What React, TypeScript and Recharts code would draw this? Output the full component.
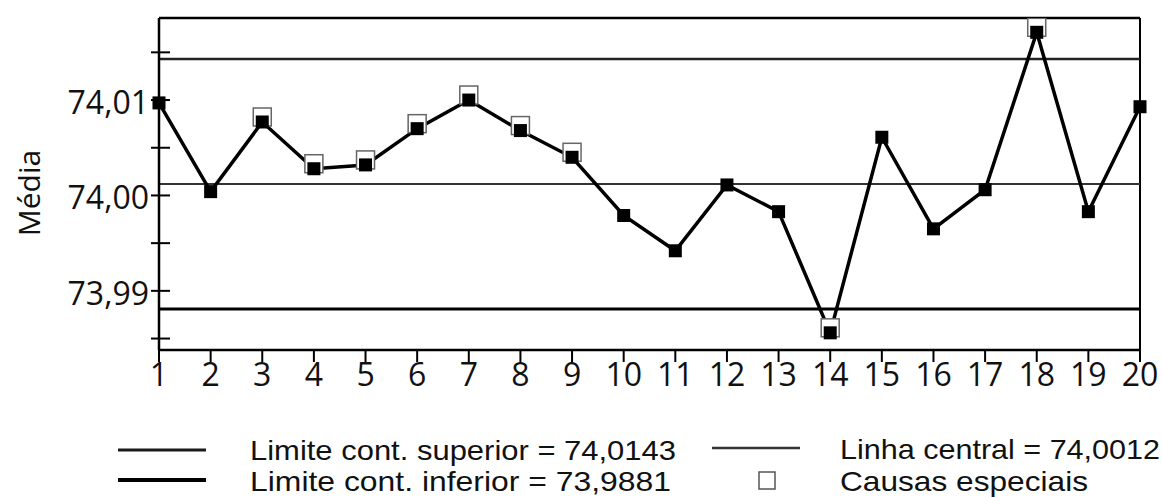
import React from "react";
import { ComposedChart, Line, XAxis, YAxis, ReferenceLine } from "recharts";

// Amostras e médias
const samples = [1, 2, 3, 4, 5, 6, 7, 8, 9, 10, 11, 12, 13, 14, 15, 16, 17, 18, 19, 20];
const means = [
  74.0097, 74.0004, 74.0077, 74.0028, 74.0032, 74.007, 74.01, 74.0068, 74.004, 73.9979,
  73.9942, 74.0011, 73.9983, 73.9856, 74.0061, 73.9965, 74.0006, 74.0171, 73.9983, 74.0093,
];
// Amostras marcadas como causas especiais
const specialSamples = [3, 4, 5, 6, 7, 8, 9, 14, 18];

const UCL = 74.0143;
const CL = 74.0012;
const LCL = 73.9881;

const yTicks = [73.985, 73.99, 73.995, 74.0, 74.005, 74.01, 74.015];
const yLabelled = [73.99, 74.0, 74.01];
const yDomain = [73.9838, 74.0186];

const data = samples.map((s, i) => ({
  sample: s,
  mean: means[i],
  special: specialSamples.includes(s) ? means[i] : null,
}));

const FONT = "'Open Sans', 'DejaVu Sans', sans-serif";
const LEGEND_FONT = "'Liberation Sans', Arial, sans-serif";
const INK = "#111";

function FilledSquare(props: any) {
  const { cx, cy } = props;
  if (cx == null || cy == null) return <g />;
  return <rect x={cx - 6.5} y={cy - 6.5} width={13} height={13} fill="#000" />;
}

function OpenSquare(props: any) {
  const { cx, cy, value } = props;
  if (cx == null || cy == null || value == null) return <g />;
  return (
    <rect x={cx - 9} y={cy - 14} width={18} height={18} fill="#fff" stroke="#666" strokeWidth={1.5} />
  );
}

function YTick(props: any) {
  const { x, y, payload } = props;
  const v = payload.value;
  const labelled = yLabelled.some((t) => Math.abs(t - v) < 1e-6);
  return (
    <g>
      <line x1={x - 8} x2={x + 11} y1={y} y2={y} stroke="#000" strokeWidth={2} />
      {labelled && (
        <text x={x - 10} y={y + 14} textAnchor="end" fontSize={32} fontFamily={FONT} fill={INK}>
          {v.toFixed(2).replace(".", ",")}
        </text>
      )}
    </g>
  );
}

function YLabel(props: any) {
  const { viewBox } = props;
  const cx = viewBox.x + 28;
  const cy = viewBox.y + viewBox.height / 2 + 9;
  return (
    <text
      x={cx}
      y={cy}
      transform={`rotate(-90 ${cx} ${cy})`}
      textAnchor="middle"
      dominantBaseline="central"
      fontSize={30}
      fontFamily={FONT}
      fill={INK}
    >
      Média
    </text>
  );
}

function ChartLegend() {
  const t = { fontSize: 28, fontFamily: LEGEND_FONT, fill: INK, lengthAdjust: "spacingAndGlyphs" } as const;
  return (
    <svg width={1162} height={67} style={{ position: "absolute", left: 0, top: 430 }}>
      <line x1={118} x2={206} y1={20} y2={20} stroke="#1a1a1a" strokeWidth={3} />
      <text x={250} y={30} textLength={426} {...t}>Limite cont. superior = 74,0143</text>
      <line x1={712} x2={800} y1={18} y2={18} stroke="#333" strokeWidth={2.5} />
      <text x={840} y={29} textLength={320} {...t}>Linha central = 74,0012</text>
      <line x1={118} x2={206} y1={50} y2={50} stroke="#000" strokeWidth={4} />
      <text x={250} y={61} textLength={421} {...t}>Limite cont. inferior = 73,9881</text>
      <rect x={759} y={42} width={16} height={17} fill="#fff" stroke="#555" strokeWidth={1.5} />
      <text x={840} y={61} textLength={248} {...t}>Causas especiais</text>
    </svg>
  );
}

export default function App() {
  return (
    <div style={{ position: "absolute", left: 0, top: 0, width: 1162, height: 497, background: "#fff" }}>
      <ComposedChart
        width={1162}
        height={497}
        data={data}
        margin={{ top: 18, right: 22, left: 0, bottom: 97 }}
      >
        <XAxis
          dataKey="sample"
          type="number"
          domain={[1, 20]}
          ticks={samples}
          interval={0}
          height={50}
          tickSize={12}
          tickMargin={1}
          axisLine={{ stroke: "#000", strokeWidth: 2.5 }}
          tickLine={{ stroke: "#000", strokeWidth: 2 }}
          tick={{ fontSize: 32, fontFamily: FONT, fill: INK }}
        />
        <YAxis
          type="number"
          domain={yDomain}
          allowDataOverflow
          ticks={yTicks}
          interval={0}
          width={159}
          tickSize={0}
          tickMargin={0}
          tickLine={false}
          axisLine={{ stroke: "#000", strokeWidth: 2.5 }}
          tick={<YTick />}
          label={<YLabel />}
        />
        {/* borda superior e direita do gráfico */}
        <ReferenceLine y={yDomain[1]} stroke="#000" strokeWidth={2.5} ifOverflow="visible" />
        <ReferenceLine x={samples[samples.length - 1]} stroke="#000" strokeWidth={2} ifOverflow="visible" />
        <ReferenceLine y={UCL} stroke="#222" strokeWidth={2.5} />
        <ReferenceLine y={CL} stroke="#333" strokeWidth={2} />
        <ReferenceLine y={LCL} stroke="#000" strokeWidth={3} />
        <Line
          dataKey="special"
          stroke="none"
          dot={<OpenSquare />}
          activeDot={false}
          isAnimationActive={false}
        />
        <Line
          dataKey="mean"
          type="linear"
          stroke="#000"
          strokeWidth={3.5}
          dot={<FilledSquare />}
          activeDot={false}
          isAnimationActive={false}
        />
      </ComposedChart>
      <ChartLegend />
    </div>
  );
}
